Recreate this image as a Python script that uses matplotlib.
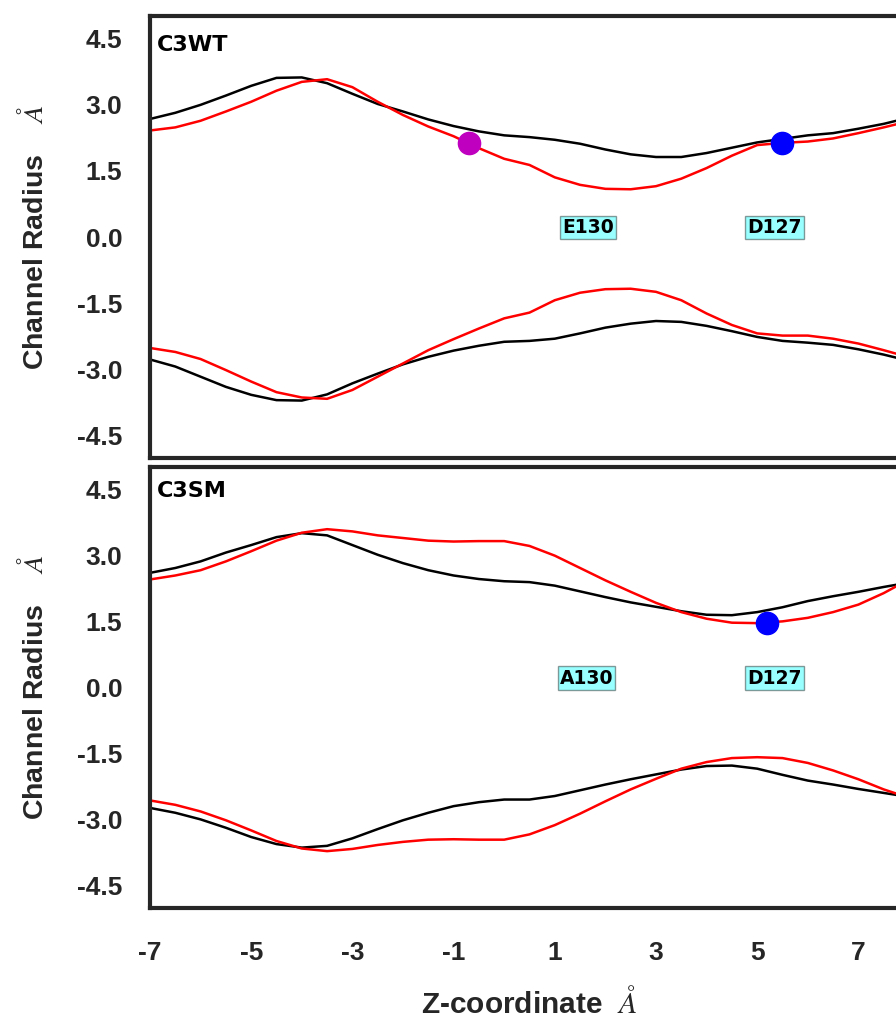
import numpy as np
import matplotlib
matplotlib.use('Agg')
import matplotlib.pyplot as plt

plt.rcParams['font.family'] = ['Liberation Sans', 'DejaVu Sans']
plt.rcParams['mathtext.fontset'] = 'stix'
plt.rcParams['axes.unicode_minus'] = False

# z positions along the pore axis (0.5 A steps)
z = np.arange(-7, 8.01, 0.5)

# C3WT profile: upper / lower pore wall
wt_black_up = [2.67, 2.81, 2.99, 3.20, 3.42, 3.60, 3.61, 3.48, 3.24, 3.01, 2.84, 2.66, 2.51, 2.39, 2.30, 2.26,
               2.20, 2.11, 1.98, 1.87, 1.81, 1.81, 1.90, 2.02, 2.14, 2.22, 2.30, 2.35, 2.45, 2.56, 2.70]
wt_red_up = [2.41, 2.48, 2.63, 2.84, 3.06, 3.31, 3.51, 3.57, 3.39, 3.06, 2.76, 2.50, 2.28, 2.01, 1.77, 1.63,
             1.35, 1.18, 1.09, 1.08, 1.15, 1.32, 1.56, 1.84, 2.08, 2.13, 2.16, 2.23, 2.35, 2.48, 2.62]
wt_black_low = [-2.77, -2.93, -3.16, -3.39, -3.57, -3.69, -3.70, -3.56, -3.31, -3.09, -2.88, -2.71, -2.57, -2.46,
                -2.37, -2.35, -2.30, -2.18, -2.05, -1.96, -1.90, -1.92, -2.01, -2.13, -2.26, -2.35, -2.39, -2.44,
                -2.54, -2.66, -2.80]
wt_red_low = [-2.51, -2.60, -2.76, -3.01, -3.27, -3.51, -3.63, -3.66, -3.46, -3.16, -2.86, -2.56, -2.31, -2.07,
              -1.84, -1.71, -1.43, -1.26, -1.18, -1.17, -1.24, -1.43, -1.73, -1.99, -2.18, -2.23, -2.23, -2.30,
              -2.41, -2.56, -2.72]

# C3SM profile
sm_black_up = [2.60, 2.71, 2.86, 3.06, 3.23, 3.41, 3.50, 3.45, 3.23, 3.01, 2.82, 2.66, 2.54, 2.46, 2.41, 2.39,
               2.31, 2.18, 2.05, 1.93, 1.83, 1.73, 1.65, 1.64, 1.71, 1.82, 1.96, 2.07, 2.17, 2.28, 2.38]
sm_red_up = [2.45, 2.54, 2.66, 2.86, 3.09, 3.33, 3.51, 3.59, 3.54, 3.45, 3.39, 3.33, 3.31, 3.32, 3.32, 3.21,
             2.99, 2.71, 2.43, 2.17, 1.92, 1.71, 1.56, 1.47, 1.46, 1.50, 1.58, 1.71, 1.88, 2.14, 2.45]
sm_black_low = [-2.73, -2.84, -2.99, -3.18, -3.39, -3.55, -3.63, -3.59, -3.42, -3.21, -3.01, -2.84, -2.69, -2.60,
                -2.54, -2.54, -2.46, -2.33, -2.20, -2.08, -1.97, -1.86, -1.78, -1.77, -1.84, -1.98, -2.11, -2.20,
                -2.30, -2.39, -2.48]
sm_red_low = [-2.56, -2.66, -2.81, -3.01, -3.24, -3.48, -3.65, -3.71, -3.66, -3.57, -3.50, -3.45, -3.44, -3.45,
              -3.45, -3.33, -3.12, -2.86, -2.58, -2.31, -2.07, -1.84, -1.69, -1.60, -1.58, -1.60, -1.71, -1.88,
              -2.08, -2.31, -2.50]

# residue positions (z, radius) and labels
wt_sites = [(-0.7, 2.12, 'm'), (5.5, 2.12, 'b')]
sm_sites = [(5.2, 1.47, 'b')]
wt_labels = [(1.15, 'E130'), (4.8, 'D127')]
sm_labels = [(1.1, 'A130'), (4.8, 'D127')]

yticks = [-4.5, -3.0, -1.5, 0.0, 1.5, 3.0, 4.5]
xticks = [-7, -5, -3, -1, 1, 3, 5, 7]

fig = plt.figure(figsize=(8.96, 10.19), dpi=100)
ax1 = fig.add_axes([0.1674, 0.5505, 0.8471, 0.4338])
ax2 = fig.add_axes([0.1674, 0.1089, 0.8471, 0.4328])

panels = [
    (ax1, 'C3WT', 4.2, wt_black_up, wt_black_low, wt_red_up, wt_red_low, wt_sites, wt_labels),
    (ax2, 'C3SM', 4.31, sm_black_up, sm_black_low, sm_red_up, sm_red_low, sm_sites, sm_labels),
]

for ax, name, ny, bu, bl, ru, rl, sites, labels in panels:
    ax.plot(z, bu, color='black', lw=1.8)
    ax.plot(z, bl, color='black', lw=1.8)
    ax.plot(z, ru, color='red', lw=1.8)
    ax.plot(z, rl, color='red', lw=1.8)
    for sx, sy, c in sites:
        ax.plot(sx, sy, 'o', color=c, markersize=16, zorder=5)
    for lx, txt in labels:
        ax.text(lx, 0.0, txt, family='DejaVu Sans', fontweight='bold', fontsize=13.5, va='bottom',
                bbox=dict(facecolor='cyan', alpha=0.4, pad=1.5))
    ax.text(-6.86, ny, name, family='DejaVu Sans', fontweight='bold', fontsize=16, color='black')

    ax.set_xlim(-7, 8)
    ax.set_ylim(-5, 5)
    ax.set_yticks(yticks)
    ax.set_yticklabels(['%.1f' % v for v in yticks])
    ax.set_xticks(xticks)
    ax.tick_params(length=0, labelsize=19, colors='#262626')
    ax.tick_params(axis='y', pad=20)
    ax.tick_params(axis='x', pad=24)
    for lab in ax.get_yticklabels() + ax.get_xticklabels():
        lab.set_fontweight('bold')
    for sp in ax.spines.values():
        sp.set_linewidth(3)
        sp.set_color('#262626')
    ax.set_ylabel(r'Channel Radius    $\AA$', fontsize=20.5, fontweight='bold', color='#262626')
    ax.yaxis.set_label_coords(-0.133, 0.5)

ax1.set_xticklabels([])
ax2.set_xlabel(r'Z-coordinate  $\AA$', fontsize=21.5, fontweight='bold', color='#262626')
ax2.xaxis.set_label_coords(0.5, -0.18)

plt.savefig('out.png', dpi=100)
